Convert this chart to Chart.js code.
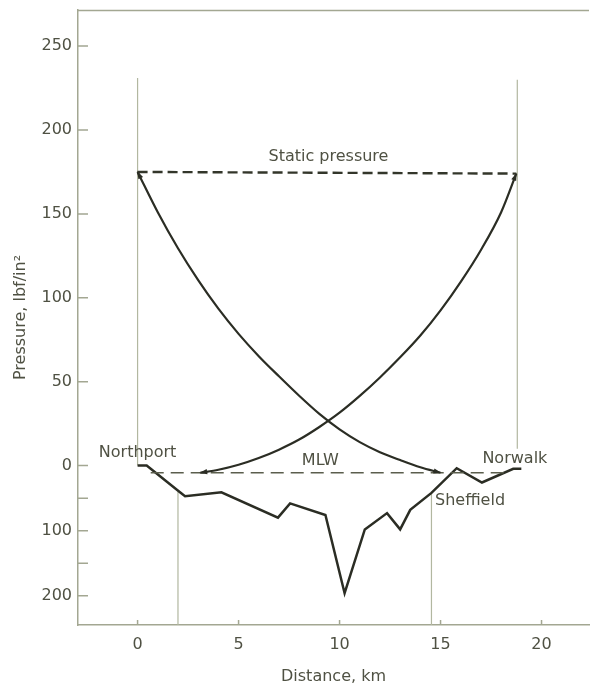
<!DOCTYPE html>
<html><head><meta charset="utf-8">
<script src="https://cdn.jsdelivr.net/npm/chart.js@4.4.0/dist/chart.umd.min.js"></script>
<style>html,body{margin:0;padding:0;background:#fff}canvas{display:block}</style>
</head><body>
<canvas id="c" width="590" height="686"></canvas>
<script>
// ---------------- data ----------------
// Upper half: pressure in lbf/in^2 ; lower half: water depth in ft
const staticKm  = [0, 18.75];
const staticPsi = [175, 174];

const mlwKm = [0.65, 18.4];
const mlwDepthFt = 11;

// pressure curve leaving Northport (ends on the MLW line)
const northportCurveKm  = [0, 1, 2, 3, 4, 5, 6, 7, 8, 9, 10, 11, 12, 13, 14];
const northportCurvePsi = [175, 151, 129.5, 110.5, 93.5, 78.5, 65.2, 53.2, 41.6, 30.8, 21.6, 14, 8, 3.3, -1];
const northportCurveEndKm = 15.0;

// pressure curve leaving Norwalk (starts on the MLW line)
const norwalkCurveStartKm = 3.1;
const norwalkCurveKm  = [4, 5, 6, 7, 8, 9, 10, 11, 12, 13, 14, 15, 16, 17, 18, 18.75];
const norwalkCurvePsi = [-2.5, 0.5, 4.5, 9.5, 15.5, 23, 31.5, 41.5, 52.5, 64.5, 77.5, 92.5, 109.5, 128.5, 151, 174];

// sea-bed profile (depth below datum, ft)
const profileKm      = [0, 0.45, 2.1, 2.35, 4.15, 6.95, 7.55, 9.3, 10.25, 11.25, 12.35, 13.0, 13.5, 14.55, 15.8, 17.05, 18.6, 19.0];
const profileDepthFt = [0, 0, 41, 47, 41, 80, 58, 76, 196, 98, 73, 98, 68, 42, 4, 26, 5, 5];

// thin vertical reference lines
const upperRefKm   = [0, 18.8];
const upperRefPsi  = [[0, 231], [10, 230]];
const lowerRefKm   = [2.0, 14.55];
const lowerRefTopFt = [40, 42];

// axis ticks
const xTickValues   = [0, 5, 10, 15, 20];
const psiTickValues = [0, 50, 100, 150, 200, 250];
const depthTickFt   = [200, 150, 100, 50];
const depthTickText = ['200', '', '100', ''];

// ---------------- helpers / scale setup ----------------
const FT_TO_AXIS = 0.388;           // ft of depth -> pressure-axis units
const depthY = ft => -ft * FT_TO_AXIS;
const X_MIN = -2.95, X_MAX = 22.35, Y_MIN = -95, Y_MAX = 271.5;
const pts = (xs, ys) => xs.map((x, i) => ({x: x, y: ys[i]}));

const yTickValues = depthTickFt.map(depthY).concat(psiTickValues);
const yTickText   = depthTickText.concat(psiTickValues.map(String));

const FONT = {family: "'DejaVu Sans', sans-serif", size: 16};
const TXT = '#4f5143';
const AXIS = '#a3a792';
const INK = '#2b2d24';
const REF = '#b2b7a0';

const mlwY = depthY(mlwDepthFt);

const datasets = [
  { // static pressure
    data: pts(staticKm, staticPsi),
    borderColor: '#33362a', borderWidth: 2.4, borderDash: [10, 5], pointRadius: 0
  },
  { // MLW
    data: pts(mlwKm, [mlwY, mlwY]),
    borderColor: '#5b5e4d', borderWidth: 1.7, borderDash: [13, 7], pointRadius: 0
  },
  { // curve from Northport
    data: pts(northportCurveKm, northportCurvePsi).concat([{x: northportCurveEndKm, y: mlwY}]),
    borderColor: INK, borderWidth: 2.2, pointRadius: 0, cubicInterpolationMode: 'monotone', arrows: true
  },
  { // curve from Norwalk
    data: [{x: norwalkCurveStartKm, y: mlwY}].concat(pts(norwalkCurveKm, norwalkCurvePsi)),
    borderColor: INK, borderWidth: 2.2, pointRadius: 0, cubicInterpolationMode: 'monotone', arrows: true
  },
  { // sea-bed profile
    data: pts(profileKm, profileDepthFt.map(depthY)),
    borderColor: INK, borderWidth: 2.5, pointRadius: 0, tension: 0, borderJoinStyle: 'miter'
  }
];
upperRefKm.forEach((km, i) => datasets.push({
  data: [{x: km, y: upperRefPsi[i][0]}, {x: km, y: upperRefPsi[i][1]}],
  borderColor: REF, borderWidth: 1.2, pointRadius: 0
}));
lowerRefKm.forEach((km, i) => datasets.push({
  data: [{x: km, y: depthY(lowerRefTopFt[i])}, {x: km, y: Y_MIN}],
  borderColor: REF, borderWidth: 1.2, pointRadius: 0
}));

const labels = [
  {text: 'Static pressure', x: 9.45,  y: 184},
  {text: 'Northport',       x: 0.0,   y: 7.6},
  {text: 'MLW',             x: 9.05,  y: 2.6},
  {text: 'Norwalk',         x: 18.68, y: 4.0},
  {text: 'Sheffield',       x: 16.46, y: depthY(54)}
];

const decor = {
  id: 'decor',
  afterDraw(chart) {
    const {ctx, chartArea: a, scales: {x, y}} = chart;
    ctx.save();
    // top frame line
    ctx.strokeStyle = AXIS; ctx.lineWidth = 1.5;
    ctx.beginPath(); ctx.moveTo(a.left, a.top + 0.5); ctx.lineTo(a.right, a.top + 0.5); ctx.stroke();
    // inward tick marks
    ctx.beginPath();
    y.ticks.forEach(t => { const p = y.getPixelForValue(t.value); ctx.moveTo(a.left, p); ctx.lineTo(a.left + 10, p); });
    x.ticks.forEach(t => { const p = x.getPixelForValue(t.value); ctx.moveTo(p, a.bottom); ctx.lineTo(p, a.bottom - 5); });
    ctx.stroke();
    // arrow heads on the pressure curves
    chart.data.datasets.forEach((ds, i) => {
      if (!ds.arrows) return;
      const el = chart.getDatasetMeta(i).data;
      const n = el.length;
      [[el[1], el[0]], [el[n - 2], el[n - 1]]].forEach(([p0, p1]) => {
        const ang = Math.atan2(p1.y - p0.y, p1.x - p0.x);
        ctx.save(); ctx.translate(p1.x, p1.y); ctx.rotate(ang);
        ctx.fillStyle = INK; ctx.beginPath();
        ctx.moveTo(1, 0); ctx.lineTo(-7, -2.6); ctx.lineTo(-7, 2.6); ctx.closePath(); ctx.fill();
        ctx.restore();
      });
    });
    // text labels
    ctx.fillStyle = TXT;
    ctx.font = FONT.size + 'px ' + FONT.family;
    ctx.textAlign = 'center'; ctx.textBaseline = 'middle';
    labels.forEach(l => ctx.fillText(l.text, x.getPixelForValue(l.x), y.getPixelForValue(l.y)));
    ctx.restore();
  }
};

new Chart(document.getElementById('c'), {
  type: 'line',
  data: {datasets: datasets},
  options: {
    responsive: false, animation: false,
    layout: {padding: {top: 10, right: 1, left: 0, bottom: 0}},
    plugins: {legend: {display: false}, tooltip: {enabled: false}},
    scales: {
      x: {
        type: 'linear', min: X_MIN, max: X_MAX,
        afterBuildTicks: s => { s.ticks = xTickValues.map(v => ({value: v})); },
        afterFit: s => { s.height = 61; s.paddingLeft = 0; s.paddingRight = 0; },
        ticks: {font: FONT, color: TXT, padding: 10, autoSkip: false, maxRotation: 0},
        grid: {display: false, drawTicks: false},
        border: {display: true, color: AXIS, width: 1.5},
        title: {display: true, text: 'Distance, km', font: FONT, color: TXT, padding: {top: 0, bottom: 0}}
      },
      y: {
        type: 'linear', min: Y_MIN, max: Y_MAX,
        afterBuildTicks: s => { s.ticks = yTickValues.map(v => ({value: v})); },
        afterFit: s => { s.width = 78; s.paddingTop = 0; s.paddingBottom = 0; },
        ticks: {font: FONT, color: TXT, padding: 6, autoSkip: false,
                callback: (v, i) => yTickText[i]},
        grid: {display: false, drawTicks: false},
        border: {display: true, color: AXIS, width: 1.5},
        title: {display: true, text: 'Pressure, lbf/in²', font: FONT, color: TXT, padding: {top: 11, bottom: 0}}
      }
    }
  },
  plugins: [decor]
});
</script>
</body></html>
